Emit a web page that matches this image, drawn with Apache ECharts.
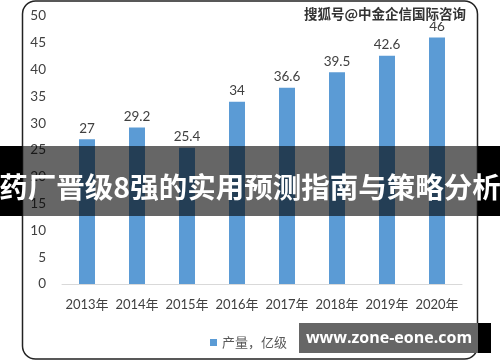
<!DOCTYPE html>
<html><head><meta charset="utf-8">
<script src="https://cdn.jsdelivr.net/npm/echarts@6/dist/echarts.min.js"></script>
<style>html,body{margin:0;padding:0;background:#fff}#c{width:500px;height:362px}</style>
</head><body><div id="c"></div>
<script>
const categories = ['2013年','2014年','2015年','2016年','2017年','2018年','2019年','2020年'];
const values = [27, 29.2, 25.4, 34, 36.6, 39.5, 42.6, 46];
const seriesName = '产量，亿级';
const yTicks = {min: 0, max: 50, interval: 5};
const bannerText = '药厂晋级8强的实用预测指南与策略分析';
const watermark = '搜狐号@中金企信国际咨询';
const siteText = 'www.zone-eone.com';

const chart = echarts.init(document.getElementById('c'), null, {renderer: 'canvas'});
const font = 'Lato, "Noto Sans CJK SC", sans-serif';
chart.setOption({
  animation: false,
  backgroundColor: '#fff',
  grid: {left: 62, right: 38, top: 16, bottom: 78},
  legend: {
    data: [seriesName], left: 205, top: 331, itemWidth: 7, itemHeight: 7, icon: 'rect',
    itemGap: 4, textStyle: {color: '#595959', fontSize: 13, fontFamily: font}
  },
  xAxis: {
    type: 'category', data: categories,
    axisLine: {lineStyle: {color: '#d9d9d9', width: 1}},
    axisTick: {show: false},
    axisLabel: {color: '#404040', fontSize: 13, margin: 14, fontFamily: font, interval: 0}
  },
  yAxis: {
    type: 'value', min: yTicks.min, max: yTicks.max, interval: yTicks.interval,
    axisLine: {show: false}, axisTick: {show: false}, splitLine: {show: false},
    axisLabel: {color: '#404040', fontSize: 13.5, margin: 16, fontFamily: font}
  },
  series: [{
    name: seriesName, type: 'bar', data: values, barWidth: 16,
    itemStyle: {color: '#5B9BD5'},
    label: {show: true, position: 'top', color: '#404040', fontSize: 13.5, fontFamily: font, distance: 4}
  }],
  graphic: [
    {type: 'rect', z: 1, shape: {x: 22.5, y: 1, width: 455, height: 358, r: 13},
     style: {fill: 'none', stroke: '#222', lineWidth: 1.5}},
    {type: 'text', z: 100, left: 303, top: 6,
     style: {text: watermark, fill: '#333', stroke: '#fff', lineWidth: 2, font: 'bold 13.5px "Noto Sans CJK SC", sans-serif'}},
    {type: 'rect', z: 100, shape: {x: 0, y: 146, width: 500, height: 70}, style: {fill: 'rgba(0,0,0,0.6)'}},
    {type: 'rect', z: 100, shape: {x: 0, y: 146, width: 22, height: 70}, style: {fill: '#000'}},
    {type: 'rect', z: 100, shape: {x: 478, y: 146, width: 22, height: 70}, style: {fill: '#000'}},
    {type: 'text', z: 101, x: 250, y: 187,
     style: {text: bannerText, fill: '#fff', align: 'center', verticalAlign: 'middle',
             font: 'bold 28.5px "Noto Sans CJK SC", sans-serif'}},
    {type: 'rect', z: 100, shape: {x: 299, y: 323, width: 179, height: 30}, style: {fill: '#666'}},
    {type: 'rect', z: 100, shape: {x: 478, y: 323, width: 13, height: 30}, style: {fill: '#000'}},
    {type: 'text', z: 101, x: 389, y: 338,
     style: {text: siteText, fill: '#fff', align: 'center', verticalAlign: 'middle',
             font: 'bold 16px "Open Sans", "DejaVu Sans", sans-serif'}}
  ]
});
</script></body></html>
